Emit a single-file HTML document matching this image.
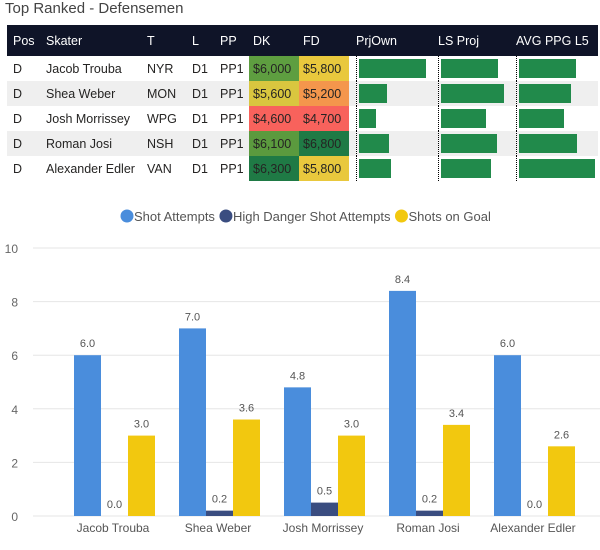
<!DOCTYPE html>
<html><head><meta charset="utf-8">
<style>
body{margin:0;width:600px;height:550px;background:#fff;font-family:"Liberation Sans",sans-serif;overflow:hidden;position:relative}
.t{position:absolute;white-space:nowrap}
table{position:absolute;left:7px;top:25px;border-collapse:collapse;font-size:12.5px;color:#252423}
td,th{height:25px;padding:0;text-align:left;font-weight:normal}
th{background:#0f1428;color:#fff;height:31px}
tr.alt td{background:#efefef}
.bc{position:relative;border-left:1px dotted #000}
.bar{position:absolute;left:2px;top:3px;height:19px;background:#218a4b}
</style></head><body>
<div class="t" style="left:5px;top:0;font-size:15px;color:#444">Top Ranked - Defensemen</div>
<table>
<thead><tr>
<th style="width:33px;padding-left:6px">Pos</th><th style="width:101px">Skater</th><th style="width:45px">T</th><th style="width:28px">L</th><th style="width:29px">PP</th><th style="width:46px;padding-left:4px">DK</th><th style="width:46px;padding-left:4px">FD</th><th style="width:7px"></th><th style="width:82px">PrjOwn</th><th style="width:78px">LS Proj</th><th style="width:82px">AVG PPG L5</th>
</tr></thead>
<tbody id="tb"></tbody></table>

<svg id="chart" width="600" height="550" style="position:absolute;left:0;top:0;pointer-events:none" font-family="Liberation Sans, sans-serif"></svg>
<script>
const players=["Jacob Trouba","Shea Weber","Josh Morrissey","Roman Josi","Alexander Edler"];
const teams=["NYR","MON","WPG","NSH","VAN"];
const dk=["$6,000","$5,600","$4,600","$6,100","$6,300"];
const fd=["$5,800","$5,200","$4,700","$6,800","$5,800"];
const dkColors=["#5e9e40","#d9c63f","#f8625c","#5b9a3e","#1f7a45"];
const fdColors=["#e9c83d","#f4964c","#f8625c","#1f7a45","#e9c83d"];
const prjOwn=[67,28,17,30,32];
const lsProj=[57,63,45,56,50];
const avgPpg=[57,52,45,58,76];
const tb=document.getElementById('tb');
players.forEach((p,i)=>{
 const tr=document.createElement('tr');
 
 
 if(i%2==1)tr.className='alt';
 const bar=(v)=>`<td class="bc"><div class="bar" style="width:${v}px"></div></td>`;
 tr.innerHTML=`<td style="padding-left:6px">D</td><td>${p}</td><td>${teams[i]}</td><td>D1</td><td>PP1</td><td style="background:${dkColors[i]};padding-left:4px">${dk[i]}</td><td style="background:${fdColors[i]};padding-left:4px">${fd[i]}</td><td></td>${bar(prjOwn[i])}${bar(lsProj[i])}${bar(avgPpg[i])}`;
 tb.appendChild(tr);
});

const categories=players;
const shotAttempts=[6.0,7.0,4.8,8.4,6.0];
const highDanger=[0.0,0.2,0.5,0.2,0.0];
const shotsOnGoal=[3.0,3.6,3.0,3.4,2.6];
const yTicks=[0,2,4,6,8,10];
const series=[shotAttempts,highDanger,shotsOnGoal];
const seriesNames=["Shot Attempts","High Danger Shot Attempts","Shots on Goal"];
const colors=["#4a8ddc","#3a4d80","#f2c80f"];
const svg=document.getElementById('chart');
const NS="http://www.w3.org/2000/svg";
const y=v=>516-v*26.8;
const x0=i=>60+i*105;
function mk(tag,attrs,txt){const e=document.createElementNS(NS,tag);for(const k in attrs)e.setAttribute(k,attrs[k]);if(txt!==undefined)e.textContent=txt;svg.appendChild(e);return e;}
yTicks.forEach(t=>{
 const l=mk('line',{x1:33,x2:600,y1:y(t),y2:y(t),stroke:'#e6e6e6'});
 
 
 const tx=mk('text',{x:18,y:y(t)+5,'text-anchor':'end','font-size':12,fill:'#666'},t);
 
 
});
categories.forEach((c,i)=>{
 const tx=mk('text',{x:x0(i)+53,y:532,'text-anchor':'middle','font-size':12,fill:'#555'},c);
 
 
 series.forEach((s,j)=>{
  const bx=x0(i)+14+j*27;
  const r=mk('rect',{x:bx,y:y(s[i]),width:27,height:516-y(s[i]),fill:colors[j]});
  
  
  const vl=mk('text',{x:bx+13.5,y:y(s[i])-8,'text-anchor':'middle','font-size':11,fill:'#555'},s[i].toFixed(1));
  
  
 });
});
let lx=120;
seriesNames.forEach((n,j)=>{
 const c=mk('circle',{cx:lx+7,cy:216,r:6.5,fill:colors[j]});
 
 
 const t=mk('text',{x:lx+14,y:221,'font-size':13,fill:'#555'},n);
 
 
 lx+=14+t.getComputedTextLength()+4;
});
</script>
</body></html>
